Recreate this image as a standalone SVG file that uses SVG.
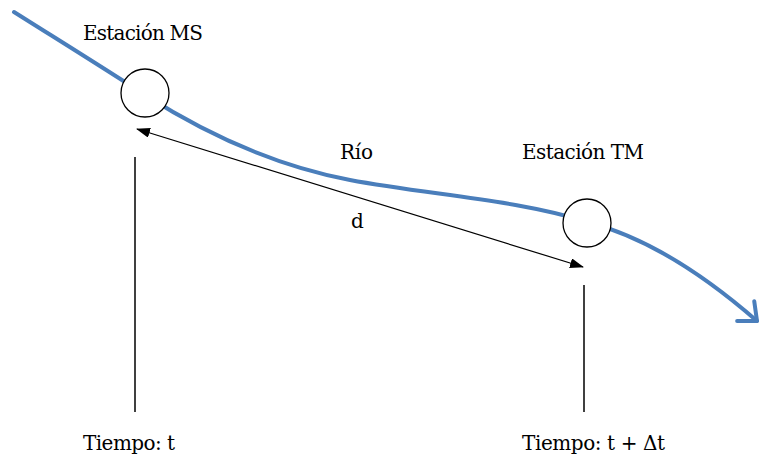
<svg xmlns="http://www.w3.org/2000/svg" width="763" height="461" viewBox="0 0 763 461">
  <style>
    text { font-family: "DejaVu Serif", "Liberation Serif", serif; font-size: 20px; fill: #000; }
    .river { fill: none; stroke: #4A7EBB; stroke-width: 4; stroke-linecap: round; stroke-linejoin: round; }
    .station { fill: #fff; stroke: #000; stroke-width: 1.3; }
    .dist { fill: none; stroke: #000; stroke-width: 1.2; }
    .time { fill: none; stroke: #000; stroke-width: 1.5; }
  </style>
  <defs>
    <marker id="tri" viewBox="0 0 14 10" refX="13" refY="5" markerWidth="14" markerHeight="10" markerUnits="userSpaceOnUse" orient="auto-start-reverse">
      <path d="M0,0 L14,5 L0,10 Z" fill="#000"/>
    </marker>
    <marker id="chevron" viewBox="-22 -16 26 32" refX="0" refY="0" markerWidth="26" markerHeight="32" markerUnits="userSpaceOnUse" orient="auto">
      <path d="M-15,-13 L0,0 L-15,13" fill="none" stroke="#4A7EBB" stroke-width="4" stroke-linecap="round" stroke-linejoin="round"/>
    </marker>
  </defs>

  <!-- river course -->
  <g id="river">
    <path class="river" d="M14,12 C60,41 110,72 145,95 C200,130 270,165 350,180 C430,195 520,200 587,222 C650,238 710,280 757,321" marker-end="url(#chevron)"/>
    <text x="340" y="159" textLength="33">Río</text>
  </g>

  <!-- connectors: distance between stations and time markers -->
  <g id="connectors">
    <line class="dist" x1="137" y1="129" x2="583" y2="267" marker-start="url(#tri)" marker-end="url(#tri)"/>
    <text x="351" y="228">d</text>
    <line class="time" x1="135" y1="157" x2="135" y2="412"/>
    <line class="time" x1="584" y1="285" x2="584" y2="412"/>
  </g>

  <g id="station-ms">
    <circle class="station" cx="145" cy="93" r="24"/>
    <text x="83" y="40" textLength="120">Estación MS</text>
  </g>

  <g id="station-tm">
    <circle class="station" cx="587" cy="223" r="24"/>
    <text x="522" y="159" textLength="122">Estación TM</text>
  </g>

  <g id="time-ms">
    <text x="83" y="450" textLength="92">Tiempo: t</text>
  </g>

  <g id="time-tm">
    <text x="522" y="450" textLength="143">Tiempo: t + Δt</text>
  </g>
</svg>
